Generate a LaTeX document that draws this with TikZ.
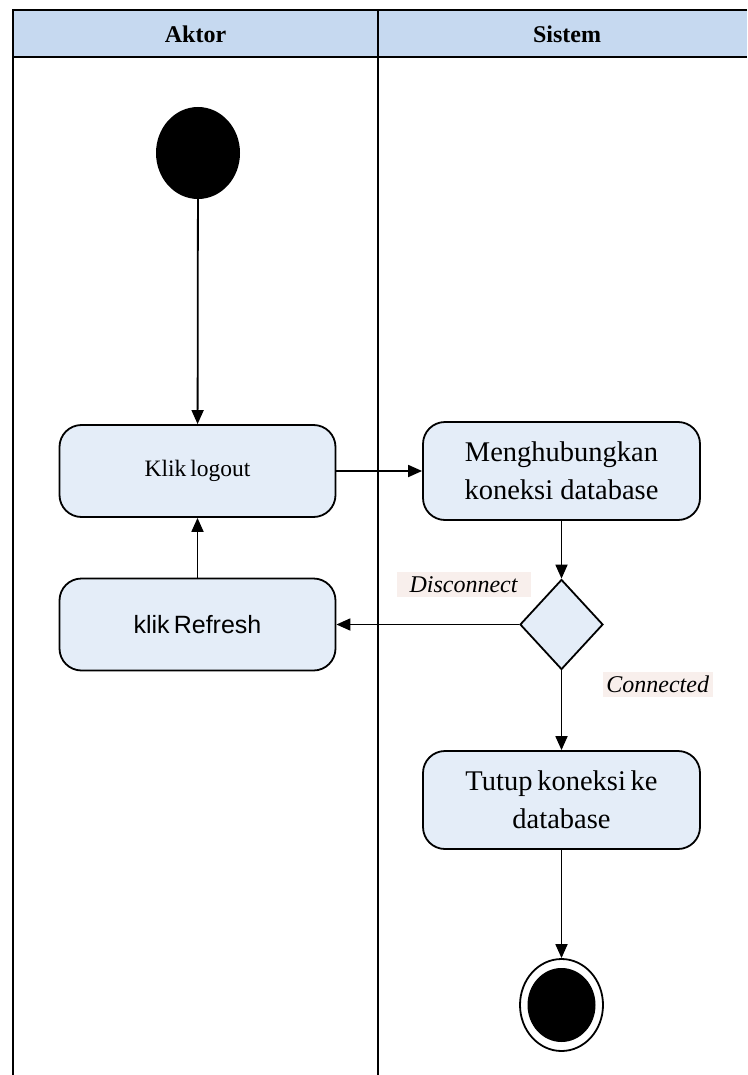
\documentclass[tikz,border=0pt]{standalone}
\usepackage{fontspec}
\setmainfont{Liberation Serif}
\newfontfamily\arialfont{Liberation Sans}
\usetikzlibrary{arrows.meta,shapes.geometric}
\definecolor{headblue}{HTML}{C6D9F0}
\definecolor{actfill}{HTML}{E4EDF8}
\definecolor{guardbg}{HTML}{F8EFEC}
\begin{document}
\begin{tikzpicture}[x=1pt,y=-1pt,
  action/.style={draw, line width=1.8pt, fill=actfill, rounded corners=22pt,
    minimum width=276pt, align=center, inner sep=0pt},
  flow/.style={line width=1.8pt, -{Triangle[length=14pt,width=12pt]}},
  guard/.style={fill=guardbg, inner sep=0pt, minimum height=25pt,
    font=\itshape\fontsize{24}{28}\selectfont},
  lane/.style={line width=2.2pt},
  headtext/.style={font=\bfseries\fontsize{24}{28}\selectfont},
  bigtext/.style={font=\fontsize{28.5}{38}\selectfont}
]
\useasboundingbox (0,0) rectangle (747,1075);

% swimlane header and lanes
\fill[headblue] (13,10) rectangle (747,57);
\draw[lane] (747,10) -- (13,10) -- (13,1075);
\draw[lane] (13,57) -- (747,57);
\draw[lane] (378,10) -- (378,1075);
\node[headtext] (hA) at (195.5,34) {Aktor};
\node[headtext] (hS) at (567,34) {Sistem};

% initial node
\node[ellipse, fill=black, minimum width=84pt, minimum height=92pt, inner sep=0pt] (start) at (198,153) {};

% actions
\node[action, minimum height=92pt, font=\fontsize{23.5}{28}\selectfont] (logout) at (197.5,471) {Klik\,logout};
\node[action, minimum height=92pt, font=\arialfont\fontsize{25}{30}\selectfont] (refresh) at (197.5,624.5) {klik\,Refresh};
\node[action, minimum width=277pt, minimum height=98pt, bigtext] (conn) at (561.5,471) {Menghubungkan\\koneksi database};
\node[action, minimum width=277pt, minimum height=98pt, bigtext] (close) at (561.5,800) {Tutup\,koneksi\,ke\\database};

% decision
\node[diamond, draw, line width=1.8pt, fill=actfill, minimum width=83pt, minimum height=90pt, inner sep=0pt] (dec) at (561.5,624.5) {};

% guards
\node[guard, minimum width=134pt] (gdis) at (463.5,584.5) {Disconnect};
\node[guard, minimum width=110pt] (gcon) at (657.7,684.5) {Connected};

% final node
\node[ellipse, draw, line width=1.8pt, fill=white, minimum width=83pt, minimum height=92pt, inner sep=0pt] (endo) at (561.5,1005) {};
\node[ellipse, fill=black, minimum width=68pt, minimum height=74pt, inner sep=0pt] (endi) at (561.5,1005) {};

% control flow
\draw[flow] (start) -- (logout);
\draw[flow] (logout) -- (conn);
\draw[flow] (conn) -- (dec);
\draw[flow] (dec.west) -- (refresh.east);
\draw[flow] (refresh) -- (logout);
\draw[flow] (dec) -- (close);
\draw[flow] (close) -- (endo);
\end{tikzpicture}
\end{document}
